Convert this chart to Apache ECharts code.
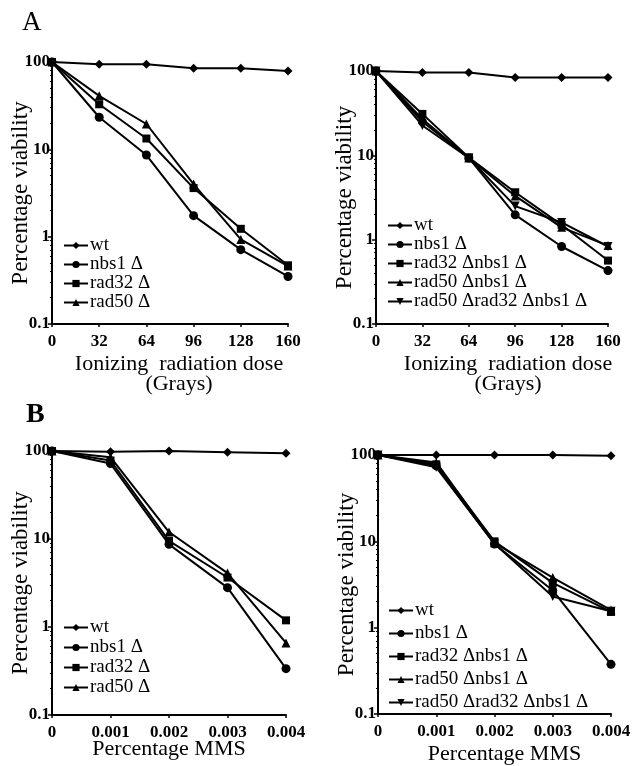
<!DOCTYPE html>
<html>
<head>
<meta charset="utf-8">
<script src="https://cdn.jsdelivr.net/npm/echarts@6/dist/echarts.min.js"></script>
<style>
html,body{margin:0;padding:0;background:#fff;}
#c{width:638px;height:766px;}
</style>
</head>
<body>
<div id="c"></div>
<script>
// ---- data ----
const doseX = [0, 32, 64, 96, 128, 160];
const doseTicks = ['0', '32', '64', '96', '128', '160'];
const mmsX = [0, 0.001, 0.002, 0.003, 0.004];
const mmsTicks = ['0', '0.001', '0.002', '0.003', '0.004'];
const yTicks = ['0.1', '1', '10', '100'];

const namesLeft = ['wt', 'nbs1 Δ', 'rad32 Δ', 'rad50 Δ'];
const namesRight = ['wt', 'nbs1 Δ', 'rad32 Δnbs1 Δ', 'rad50 Δnbs1 Δ', 'rad50 Δrad32 Δnbs1 Δ'];

// Panel A left: ionizing radiation, single mutants
const aL_wt    = [100, 94, 94, 85, 85, 79];
const aL_nbs1  = [100, 23.3, 8.6, 1.74, 0.71, 0.35];
const aL_rad32 = [100, 32.8, 13.3, 3.6, 1.23, 0.47];
const aL_rad50 = [100, 41, 19.5, 4.0, 0.93, 0.46];

// Panel A right: ionizing radiation, double/triple mutants
const aR_wt     = [100, 96, 96, 83.5, 83.5, 83.5];
const aR_nbs1   = [100, 25, 9.3, 1.97, 0.83, 0.43];
const aR_rad32n = [100, 31, 9.4, 3.65, 1.5, 0.565];
const aR_rad50n = [100, 27, 9.3, 3.3, 1.4, 0.85];
const aR_triple = [100, 22.6, 9.3, 2.5, 1.6, 0.83];

// Panel B left: MMS, single mutants
const bL_wt    = [100, 98, 100, 97, 94];
const bL_nbs1  = [100, 72, 8.7, 2.8, 0.336];
const bL_rad32 = [100, 78, 9.5, 3.65, 1.19];
const bL_rad50 = [100, 85, 12, 4.1, 0.66];

// Panel B right: MMS, double/triple mutants
const bR_wt     = [100, 100, 100, 100, 98];
const bR_nbs1   = [100, 75, 9.3, 2.7, 0.376];
const bR_rad32n = [100, 78, 10, 3.3, 1.52];
const bR_rad50n = [100, 82, 9.6, 3.8, 1.6];
const bR_triple = [100, 72, 9.4, 2.3, 1.55];

// ---- styling ----
const FONT = '"Liberation Serif", "DejaVu Serif", serif';
const symbols = ['diamond', 'circle', 'rect', 'triangle', 'triangle'];
const symRot = [0, 0, 0, 0, 180];
const symSize = [9, 9, 8, 9, 9];

const grids = [
  {left: 52, top: 62, width: 236, height: 262},
  {left: 376, top: 71, width: 232, height: 253},
  {left: 52, top: 451, width: 234, height: 264},
  {left: 378, top: 455, width: 233, height: 259}
];

function xAxis(i, isDose) {
  const ticks = isDose ? doseTicks : mmsTicks;
  const xs = isDose ? doseX : mmsX;
  return {
    type: 'value', gridIndex: i,
    min: 0, max: xs[xs.length - 1], interval: xs[1] - xs[0],
    axisLine: {lineStyle: {color: '#000', width: 2}},
    axisTick: {show: true, length: 3, inside: false, lineStyle: {color: '#000', width: 1.5}},
    splitLine: {show: false},
    axisLabel: {
      color: '#000', fontFamily: FONT, fontSize: 17, fontWeight: 'bold', margin: 9,
      formatter: function (v) {
        let best = 0, bd = Infinity;
        xs.forEach((x, k) => { const d = Math.abs(x - v); if (d < bd) { bd = d; best = k; } });
        return ticks[best];
      }
    },
    name: isDose ? 'Ionizing  radiation dose\n(Grays)' : 'Percentage MMS',
    nameLocation: 'middle',
    nameMoveOverlap: false,
    nameGap: isDose ? 30 : (i === 2 ? 24 : 30),
    nameTextStyle: {
      color: '#000', fontFamily: FONT, fontSize: 22, lineHeight: 20,
      padding: isDose ? [0, 0, 0, (i === 0 ? 18 : 32)] : [0, 0, 0, (i === 3 ? 20 : 0)]
    }
  };
}

function yAxis(i) {
  return {
    type: 'log', logBase: 10, gridIndex: i, min: 0.1, max: 100,
    axisLine: {show: true, lineStyle: {color: '#000', width: 2}},
    axisTick: {show: true, length: 4, lineStyle: {color: '#000', width: 1.5}},
    minorTick: {show: true, splitNumber: 9, length: 2, lineStyle: {color: '#000', width: 1}},
    splitLine: {show: false},
    axisLabel: {
      color: '#000', fontFamily: FONT, fontSize: 17, fontWeight: 'bold', margin: 2,
      formatter: function (v) {
        const idx = Math.round(Math.log10(v)) + 1;
        return yTicks[idx] !== undefined ? yTicks[idx] : '';
      }
    },
    name: 'Percentage viability',
    nameLocation: 'middle', nameRotate: 90, nameGap: 20,
    nameMoveOverlap: false,
    nameTextStyle: {color: '#000', fontFamily: FONT, fontSize: 23, padding: 0}
  };
}

function mkSeries(i, name, k, xs, ys) {
  return {
    type: 'line', name: name, xAxisIndex: i, yAxisIndex: i,
    data: xs.map((x, j) => [x, ys[j]]),
    symbol: symbols[k], symbolRotate: symRot[k], symbolSize: symSize[k],
    showSymbol: true,
    lineStyle: {color: '#000', width: 2},
    itemStyle: {color: '#000', borderWidth: 0},
    animation: false, z: 10 - k
  };
}

const series = [];
[aL_wt, aL_nbs1, aL_rad32, aL_rad50].forEach((d, k) => series.push(mkSeries(0, namesLeft[k], k, doseX, d)));
[aR_wt, aR_nbs1, aR_rad32n, aR_rad50n, aR_triple].forEach((d, k) => series.push(mkSeries(1, namesRight[k], k, doseX, d)));
[bL_wt, bL_nbs1, bL_rad32, bL_rad50].forEach((d, k) => series.push(mkSeries(2, namesLeft[k], k, mmsX, d)));
[bR_wt, bR_nbs1, bR_rad32n, bR_rad50n, bR_triple].forEach((d, k) => series.push(mkSeries(3, namesRight[k], k, mmsX, d)));

function legend(left, top, names, gap) {
  return {
    left: left, top: top, orient: 'vertical', data: names,
    itemWidth: 24, itemHeight: 9, itemGap: gap, padding: 0,
    selectedMode: false,
    textStyle: {color: '#000', fontFamily: FONT, fontSize: 19, padding: [0, 0, 0, -3]}
  };
}

const option = {
  backgroundColor: '#fff',
  animation: false,
  grid: grids,
  xAxis: [xAxis(0, true), xAxis(1, true), xAxis(2, false), xAxis(3, false)],
  yAxis: [yAxis(0), yAxis(1), yAxis(2), yAxis(3)],
  legend: [
    legend(63, 236, namesLeft, 0),
    legend(387, 216, namesRight, 0),
    legend(63, 618, namesLeft, 1),
    legend(388, 601, namesRight, 4)
  ],
  graphic: [
    {type: 'text', left: 22, top: 9, style: {text: 'A', font: '27px ' + FONT, fill: '#000'}},
    {type: 'text', left: 26, top: 401, style: {text: 'B', font: 'bold 28px ' + FONT, fill: '#000'}}
  ],
  series: series
};

const chart = echarts.init(document.getElementById('c'), null, {renderer: 'canvas'});
chart.setOption(option);
</script>
</body>
</html>
